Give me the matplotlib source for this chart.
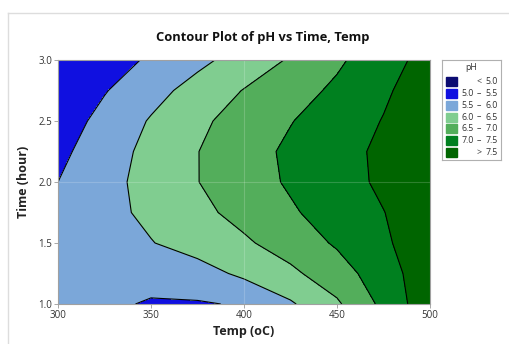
import matplotlib
matplotlib.use("Agg")
import matplotlib.pyplot as plt
import numpy as np
from matplotlib.patches import Rectangle
from matplotlib.lines import Line2D

plt.rcParams["font.family"] = ["Open Sans", "DejaVu Sans"]

# grid (pH at each temp / time node)
temps = [300, 325, 350, 375, 400, 425, 450, 475, 500]
times = [1.0, 1.25, 1.5, 1.75, 2.0, 2.25, 2.5, 2.75, 3.0]
ph = [
    [5.62, 5.56, 5.47, 5.46, 5.54, 5.94, 6.43, 7.12, 7.85],  # 1.00 h
    [5.62, 5.60, 5.62, 5.80, 6.10, 6.40, 6.78, 7.27, 7.82],  # 1.25 h
    [5.62, 5.78, 5.98, 6.21, 6.43, 6.72, 7.06, 7.43, 7.79],  # 1.50 h
    [5.58, 5.85, 6.11, 6.38, 6.65, 6.94, 7.22, 7.49, 7.78],  # 1.75 h
    [5.50, 5.84, 6.17, 6.49, 6.78, 7.06, 7.32, 7.58, 7.84],  # 2.00 h
    [5.38, 5.77, 6.14, 6.49, 6.80, 7.09, 7.34, 7.59, 7.84],  # 2.25 h
    [5.24, 5.65, 6.04, 6.40, 6.70, 6.98, 7.25, 7.52, 7.79],  # 2.50 h
    [5.11, 5.47, 5.83, 6.18, 6.52, 6.80, 7.09, 7.43, 7.77],  # 2.75 h
    [5.05, 5.27, 5.57, 5.88, 6.20, 6.55, 6.92, 7.30, 7.68],  # 3.00 h
]

levels = [5.0, 5.5, 6.0, 6.5, 7.0, 7.5]
colors = ["#0c0c72", "#1010e0", "#7ba7d9", "#80cd90", "#53ae5b", "#00801f", "#006500"]
legend_labels = [("<", "5.0"), ("5.0", "5.5"), ("5.5", "6.0"), ("6.0", "6.5"),
                 ("6.5", "7.0"), ("7.0", "7.5"), (">", "7.5")]

TEXT = "#333333"

fig = plt.figure(figsize=(5.10, 3.44), dpi=100)
ax = fig.add_axes([58 / 510, 1 - 304 / 344, 372 / 510, 244 / 344])

X, Y = np.meshgrid(temps, times)
Z = np.array(ph)
fill_levels = [0] + levels + [14]
ax.contourf(X, Y, Z, levels=fill_levels, colors=colors)
ax.contour(X, Y, Z, levels=levels, colors="black", linewidths=0.8)

# faint reference lines seen in the original
ax.axhline(2.0, color="white", alpha=0.18, lw=0.8)
ax.axvline(400, color="white", alpha=0.18, lw=0.8)

ax.set_xlim(300, 500)
ax.set_ylim(1.0, 3.0)
ax.set_xticks([300, 350, 400, 450, 500])
ax.set_yticks([1.0, 1.5, 2.0, 2.5, 3.0])
ax.set_yticklabels(["1.0", "1.5", "2.0", "2.5", "3.0"])
ax.tick_params(labelsize=7, colors=TEXT, length=3, width=0.6, pad=1)
ax.tick_params(axis="both", color="#999999")
for s in ax.spines.values():
    s.set_color("#a0a0a0")
    s.set_linewidth(0.8)

ax.set_xlabel("Temp (oC)", fontsize=9, fontweight="bold", color="#222222", labelpad=3)
ax.set_ylabel("Time (hour)", fontsize=9, fontweight="bold", color="#222222", labelpad=6)
fig.text(263 / 510, 1 - 37 / 344, "Contour Plot of pH vs Time, Temp",
         ha="center", va="center", fontsize=9.3, fontweight="bold", color="#111111")

# legend box drawn by hand to keep the column layout
lax = fig.add_axes([442 / 510, 1 - 160 / 344, 59 / 510, 100 / 344])
lax.set_xlim(0, 59)
lax.set_ylim(100, 0)
lax.set_xticks([])
lax.set_yticks([])
for s in lax.spines.values():
    s.set_color("#b0b0b0")
    s.set_linewidth(0.8)
lax.text(29, 8, "pH", ha="center", va="center", fontsize=6.3, color=TEXT)
for i, (c, (lo, hi)) in enumerate(zip(colors, legend_labels)):
    yc = 22 + i * 11.7
    lax.add_patch(Rectangle((4, yc - 4.5), 11, 9, color=c))
    if lo in ("<", ">"):
        lax.text(37, yc, lo, ha="center", va="center", fontsize=6.3, color=TEXT)
    else:
        lax.text(31.5, yc, lo, ha="right", va="center", fontsize=6.3, color=TEXT)
        lax.text(37, yc, "\u2013", ha="center", va="center", fontsize=6.3, color=TEXT)
    lax.text(56, yc, hi, ha="right", va="center", fontsize=6.3, color=TEXT)

# light window frame around the graph
fig.add_artist(Line2D([8 / 510, 8 / 510], [0, 1 - 13 / 344], color="#dddddd", lw=1))
fig.add_artist(Line2D([8 / 510, 1], [1 - 13 / 344, 1 - 13 / 344], color="#dddddd", lw=1))

fig.savefig("out.png", dpi=100, facecolor="white")
